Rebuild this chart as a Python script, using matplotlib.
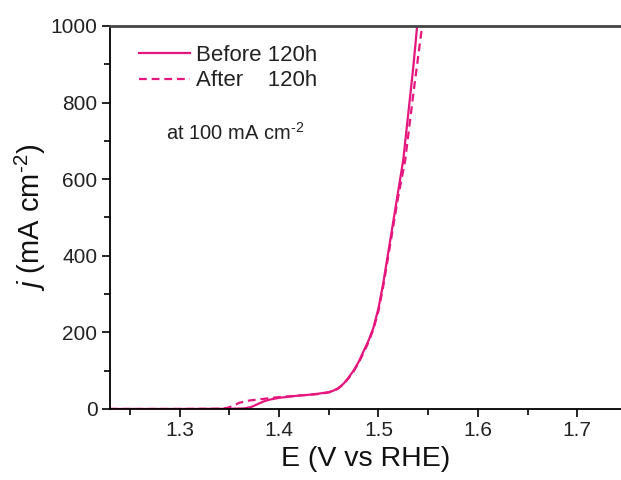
import matplotlib
matplotlib.use("Agg")
import matplotlib.pyplot as plt
from matplotlib.ticker import MultipleLocator, FormatStrFormatter

plt.rcParams['font.family'] = ['Liberation Sans', 'DejaVu Sans']
plt.rcParams['mathtext.fontset'] = 'custom'
plt.rcParams['mathtext.rm'] = 'Liberation Sans'
plt.rcParams['mathtext.it'] = 'Liberation Sans:italic'

# Polarization curves (potential in V vs RHE, current density in mA cm^-2)
e_before = [1.23, 1.30, 1.35, 1.365, 1.372, 1.378, 1.385, 1.39, 1.40, 1.41, 1.42,
            1.43, 1.44, 1.45, 1.455, 1.46, 1.465, 1.47, 1.475, 1.48, 1.485,
            1.49, 1.495, 1.50, 1.505, 1.51, 1.515, 1.52, 1.525, 1.53, 1.535, 1.539]
j_before = [0, 0, 0.5, 1.5, 5, 12, 20, 24, 29, 32, 35,
            37, 40, 44, 48, 55, 66, 82, 100, 122, 150,
            178, 212, 262, 330, 410, 490, 570, 650, 770, 890, 1000]

e_after = [1.23, 1.30, 1.34, 1.348, 1.355, 1.36, 1.37, 1.38, 1.39, 1.40, 1.41,
           1.42, 1.43, 1.44, 1.45, 1.455, 1.46, 1.465, 1.47, 1.475, 1.48,
           1.485, 1.49, 1.495, 1.50, 1.505, 1.51, 1.515, 1.52, 1.527, 1.535, 1.544]
j_after = [0, 0, 0.5, 3, 9, 16, 22, 25, 28, 31, 33,
           35, 37, 39, 43, 47, 54, 65, 80, 98, 120,
           146, 174, 208, 255, 322, 400, 478, 555, 650, 820, 1000]

labels = ["Before 120h", "After    120h"]
color = "#E5177E"

fig = plt.figure(figsize=(6.21, 4.80), dpi=100)
ax = fig.add_axes([0.177, 0.148, 0.823, 0.798])

ax.plot(e_before, j_before, color=color, lw=1.6, label=labels[0])
ax.plot(e_after, j_after, color=color, lw=1.6, ls=(0, (3.5, 2.2)), label=labels[1])

ax.set_xlim(1.23, 1.744)
ax.set_ylim(0, 1000)
ax.xaxis.set_major_locator(MultipleLocator(0.1))
ax.xaxis.set_minor_locator(MultipleLocator(0.05))
ax.yaxis.set_major_locator(MultipleLocator(200))
ax.yaxis.set_minor_locator(MultipleLocator(100))
ax.xaxis.set_major_formatter(FormatStrFormatter('%.1f'))

ax.tick_params(which='major', direction='out', length=6, width=1.2,
               labelsize=15, colors='black', labelcolor='#222222', pad=3)
ax.tick_params(which='minor', direction='out', length=4, width=1.2)
ax.tick_params(top=False, right=False, which='both')

ax.spines['right'].set_visible(False)
ax.spines['top'].set_color('#444444')
ax.spines['top'].set_linewidth(2.0)
ax.spines['left'].set_linewidth(1.3)
ax.spines['bottom'].set_linewidth(1.3)

ax.set_xlabel("E (V vs RHE)", fontsize=20.5, color='#111111', labelpad=4)
ax.set_ylabel(r"$j$ (mA cm$^{\text{-2}}$)", fontsize=21, color='#111111', labelpad=2)

leg = ax.legend(loc='upper left', bbox_to_anchor=(0.03, 0.985), frameon=False,
                fontsize=16, handlelength=2.3, handletextpad=0.3,
                labelspacing=0.2, borderaxespad=0.2)
for t in leg.get_texts():
    t.set_color('#222222')

ax.text(0.11, 0.72, r"at 100 mA cm$^{\text{-2}}$", transform=ax.transAxes,
        fontsize=14.5, color='#222222', va='center', ha='left')

fig.savefig("out.png", dpi=100)
